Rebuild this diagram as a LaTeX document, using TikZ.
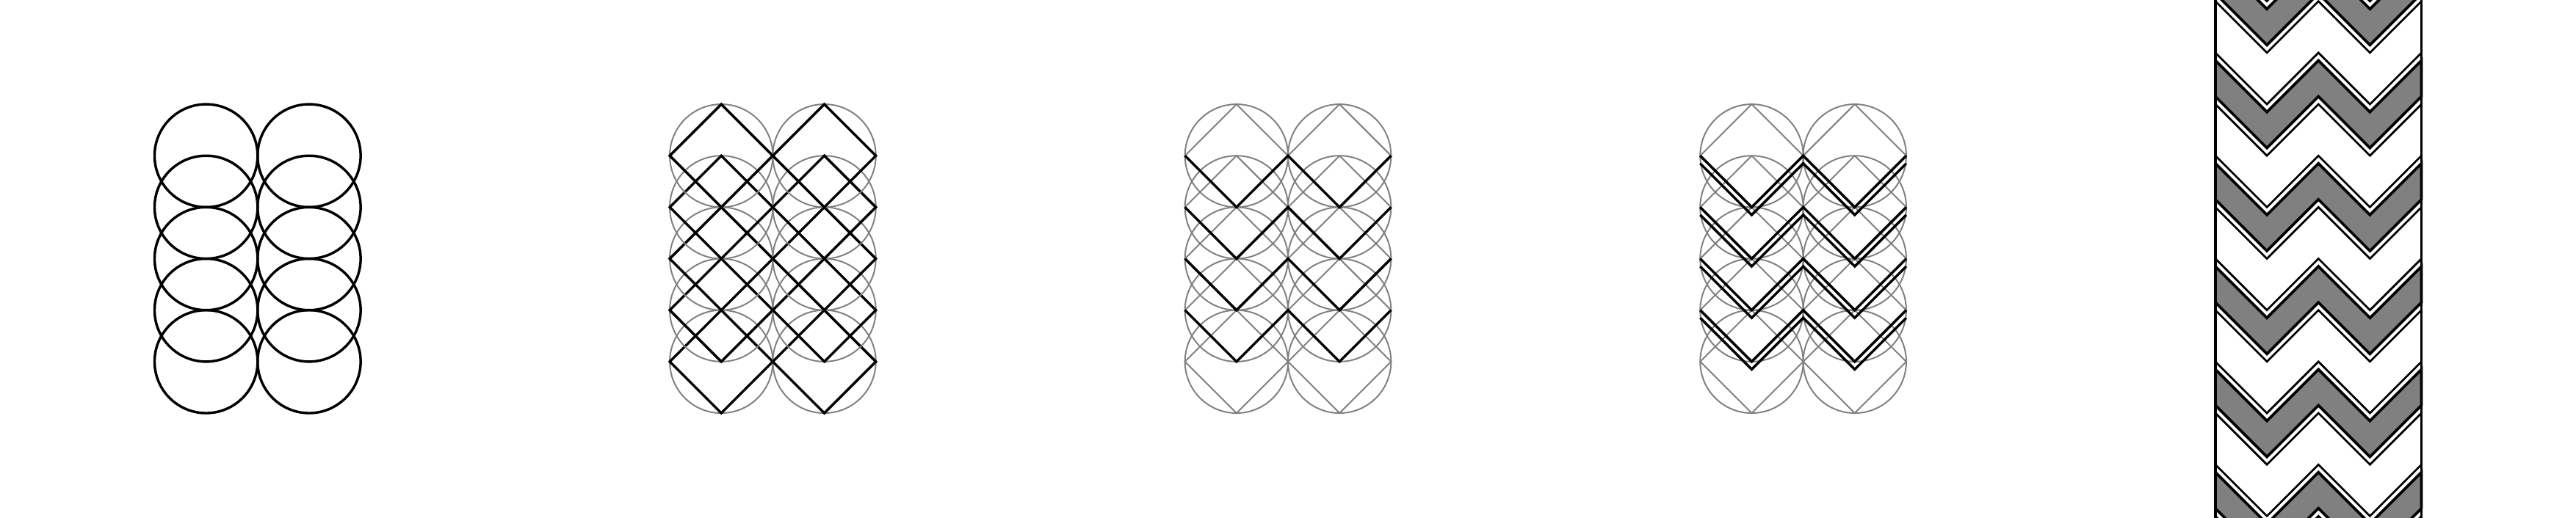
\documentclass[tikz,border=0pt]{standalone}
\usepackage{xcolor}
\usepackage{tikz}

\begin{document}
\begin{tikzpicture}[x=1cm, y=1cm,
    ring/.style={draw=black, line width=1.4pt},
    guide/.style={draw=gray, line width=0.8pt},
    zig/.style={draw=black, line width=1.4pt},
    band/.style={fill=gray, draw=black, line width=1.5pt},
    stripe/.style={draw=black, line width=1.1pt}]

    \useasboundingbox (-4,-5.025) rectangle (46,5.025);

    \foreach \cx in {0,2} \foreach \cy in {-2,...,2}
        \draw [ring] (\cx,\cy) circle (1);

    \foreach \cx in {10,12} \foreach \cy in {-2,...,2} {
        \draw [guide] (\cx,\cy) circle (1);
        \draw [zig] (\cx-1,\cy) -- (\cx,\cy+1) -- (\cx+1,\cy) -- (\cx,\cy-1) -- cycle;
    }

    \foreach \px in {20,30} \foreach \cx in {\px,\px+2} \foreach \cy in {-2,...,2} {
        \draw [guide] (\cx,\cy) circle (1);
        \draw [guide] (\cx-1,\cy) -- (\cx,\cy+1) -- (\cx+1,\cy) -- (\cx,\cy-1) -- cycle;
    }
    \foreach \cy in {-1,...,2}
        \draw [zig] (19,\cy) -- (20,\cy-1) -- (21,\cy) -- (22,\cy-1) -- (23,\cy);
    \foreach \cy in {-1,...,2} \foreach \dy in {0,0.15}
        \draw [zig] (29,\cy-\dy) -- (30,\cy-1-\dy) -- (31,\cy-\dy) -- (32,\cy-1-\dy) -- (33,\cy-\dy);

    \begin{scope}
        \clip (38.5,-5.025) rectangle (43.5,5.025);
        \foreach \k in {-4,...,2} {
            \filldraw [band] (39,2*\k+1.85) -- (40,2*\k+0.85) -- (41,2*\k+1.85) -- (42,2*\k+0.85) -- (43,2*\k+1.85)
                -- (43,2*\k+1.15) -- (42,2*\k+0.15) -- (41,2*\k+1.15) -- (40,2*\k+0.15) -- (39,2*\k+1.15) -- cycle;
            \draw [stripe] (39,2*\k+2) -- (40,2*\k+1) -- (41,2*\k+2) -- (42,2*\k+1) -- (43,2*\k+2);
            \draw [stripe] (39,2*\k+1) -- (40,2*\k) -- (41,2*\k+1) -- (42,2*\k) -- (43,2*\k+1);
        }
        \draw [ring] (39,-5.5) rectangle (43,5.5);
    \end{scope}
\end{tikzpicture}
\end{document}
